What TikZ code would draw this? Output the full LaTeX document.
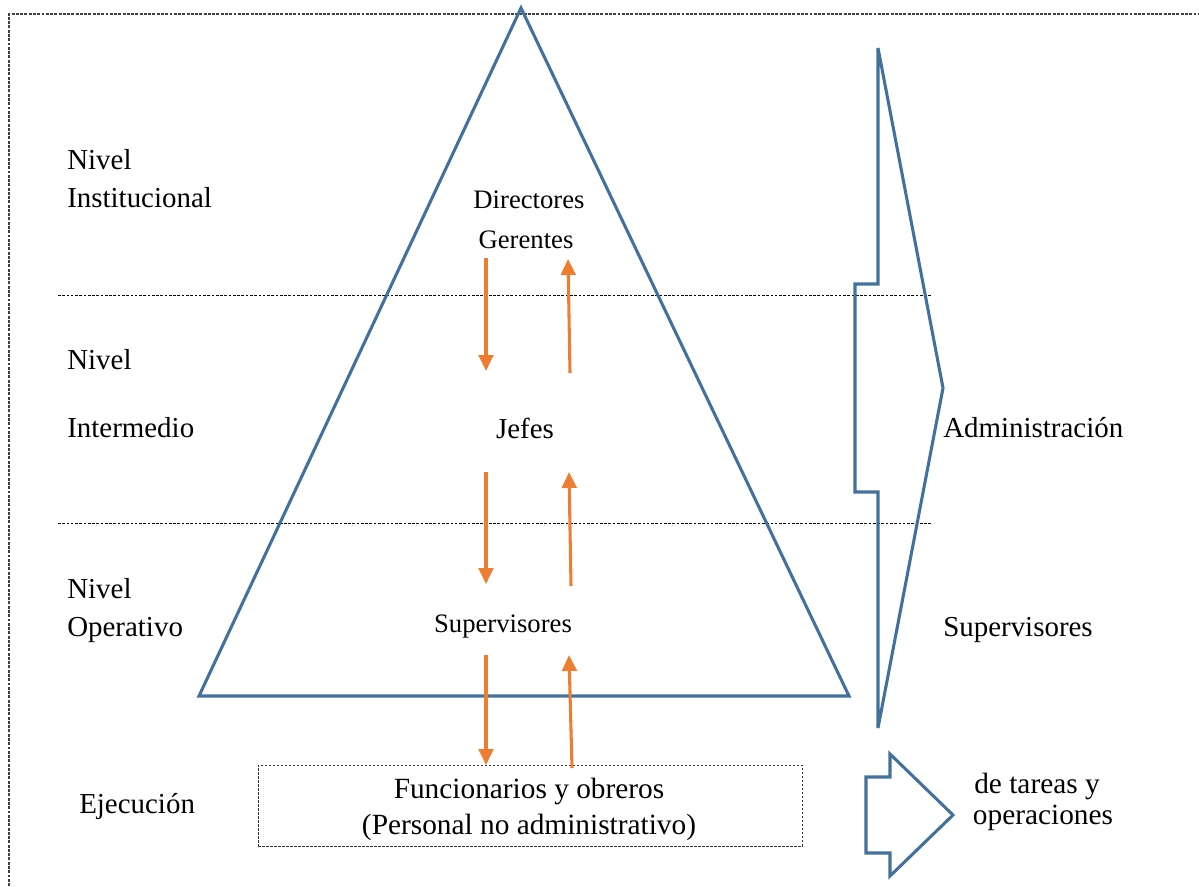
\documentclass[tikz,border=0pt]{standalone}
\usepackage{fontspec}
\setmainfont{Liberation Serif}
\usetikzlibrary{arrows.meta}
\definecolor{blu}{RGB}{65,113,156}
\definecolor{ora}{RGB}{237,125,49}
\tikzset{
  shp/.style={draw=blu,line width=2.3pt,line join=miter},
  oarr/.style={draw=ora,line width=2.3pt,-{Triangle[length=12pt,width=11pt]}},
  sep/.style={draw=black,dashed,dash pattern=on 2pt off 1.2pt,line width=0.5pt},
  big/.style={font=\fontsize{21.7}{26}\selectfont,inner sep=0pt},
  mid/.style={font=\fontsize{20}{24}\selectfont,inner sep=0pt},
  box/.style={font=\fontsize{22}{27}\selectfont,inner sep=0pt},
  lft/.style={big,anchor=west}
}
\begin{document}
\begin{tikzpicture}[x=0.75pt,y=-0.75pt]
\useasboundingbox (0,0) rectangle (1199,886);
% frame
\draw[draw=black!75,dash pattern=on 2.2pt off 1pt,line width=0.9pt] (9,886) -- (9,14) -- (1199,14);
% separators
\draw[sep] (58,295) -- (932,295);
\draw[sep] (58,523) -- (932,523);
% triangle
\draw[shp] (521,8) -- (849,696) -- (199,696) -- cycle;
% big arrow
\draw[shp] (878,48) -- (943,388) -- (878,728) -- (878,492) -- (855,492) -- (855,284) -- (878,284) -- cycle;
% small arrow
\draw[shp] (890,754) -- (953,815) -- (890,876) -- (890,853) -- (866,853) -- (866,777) -- (890,777) -- cycle;
% box
\node[draw=black!80,dash pattern=on 2pt off 1pt,line width=0.5pt,minimum width=544*0.75pt,minimum height=81*0.75pt,inner sep=0pt,anchor=north west] (bx) at (258,765) {};
\node[box,align=center] (fun) at (529,809) {Funcionarios y obreros\\(Personal no administrativo)};
% left labels
\node[lft] (n1a) at (67,160) {Nivel};
\node[lft] (n1b) at (67,198) {Institucional};
\node[lft] (n2a) at (67,360) {Nivel};
\node[lft] (n2b) at (67,428) {Intermedio};
\node[lft] (n3a) at (67,589) {Nivel};
\node[lft] (n3b) at (67,630) {Operativo};
\node[lft] (ej) at (79,807) {Ejecución};
% inner labels
\node[mid] (dir) at (529,200) {Directores};
\node[mid] (ger) at (526,240) {Gerentes};
\node[big] (jef) at (525,428) {Jefes};
\node[mid] (sup) at (503,626) {Supervisores};
% right labels
\node[lft] (adm) at (943,428) {Administración};
\node[lft] (sup2) at (943,630) {Supervisores};
\node[box] (tar1) at (1037,786) {de tareas y};
\node[box] (tar2) at (1043,818) {operaciones};
% arrow anchor coordinates
\coordinate (d1s) at (486,258); \coordinate (d1e) at (486,371);
\coordinate (u1s) at (570,373); \coordinate (u1e) at (568,259);
\coordinate (d2s) at (486,472); \coordinate (d2e) at (486,584);
\coordinate (u2s) at (571,586); \coordinate (u2e) at (569,472);
\coordinate (d3s) at (486,655); \coordinate (d3e) at (486,765);
\coordinate (u3s) at (572,768); \coordinate (u3e) at (569,655);
\draw[oarr] (d1s) -- (d1e);
\draw[oarr] (u1s) -- (u1e);
\draw[oarr] (d2s) -- (d2e);
\draw[oarr] (u2s) -- (u2e);
\draw[oarr] (d3s) -- (d3e);
\draw[oarr] (u3s) -- (u3e);
\end{tikzpicture}
\end{document}
